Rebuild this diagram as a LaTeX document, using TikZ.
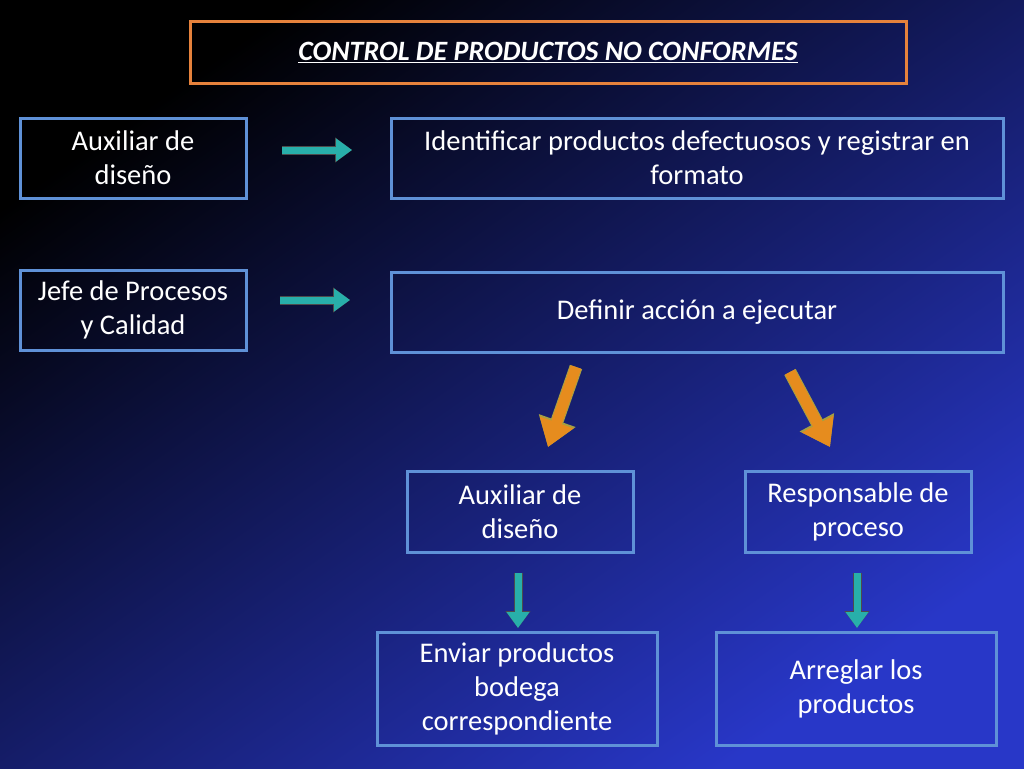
\documentclass[tikz,border=0pt]{standalone}
\usepackage{fontspec}
\setmainfont{Carlito}
\usetikzlibrary{arrows.meta,positioning}
\definecolor{bgblue}{RGB}{40,55,200}
\definecolor{boxline}{RGB}{95,145,215}
\definecolor{titleline}{RGB}{230,130,60}
\definecolor{tealarrow}{RGB}{40,175,170}
\definecolor{firearrow}{RGB}{230,140,30}
\tikzset{
  box/.style={draw=boxline,line width=3pt,text=white,align=center,inner sep=0pt,
    font=\fontsize{28.5}{34}\selectfont},
  teal/.style={draw=tealarrow,line width=7pt,-{Triangle[length=16pt,width=22pt]},
    preaction={draw=black!70,line width=9pt,-{Triangle[length=17pt,width=24pt]}}},
  fire/.style={draw=firearrow,line width=11pt,-{Triangle[length=26pt,width=34pt]},
    preaction={draw=yellow!60!black,line width=13pt,-{Triangle[length=28pt,width=37pt]}}}
}
\begin{document}
\begin{tikzpicture}[x=1pt,y=-1pt]
\shade[shading=axis,top color=black,bottom color=bgblue,shading angle=35] (0,0) rectangle (1024,768);
\useasboundingbox (0,0) rectangle (1024,768);
% title
\node[box,draw=titleline,minimum width=716pt,minimum height=61pt,
  font=\fontsize{28}{34}\selectfont\bfseries\itshape] (title) at (548,52.5) {\underline{CONTROL DE PRODUCTOS NO CONFORMES}};
% first row
\node[box,minimum width=226pt,minimum height=80pt] (aux1) at (133,158) {Auxiliar de\\diseño};
\node[box,minimum width=612pt,minimum height=80pt] (ident) at (697,158) {Identificar productos defectuosos y registrar en\\formato};
\node[box,minimum width=226pt,minimum height=80pt] (jefe) at (133,310) {Jefe de Procesos\\y Calidad};
\node[box,minimum width=612pt,minimum height=80pt] (def) at (697,312) {Definir acción a ejecutar};
% second level
\node[box,minimum width=226pt,minimum height=81pt] (aux2) at (520,512) {Auxiliar de\\diseño};
\node[box,minimum width=226pt,minimum height=81pt] (resp) at (858,512) {Responsable de\\proceso};
\node[box,minimum width=280pt,minimum height=113pt] (env) at (517,689) {Enviar productos\\bodega\\correspondiente};
\node[box,minimum width=280pt,minimum height=113pt] (arr) at (856,689) {Arreglar los\\productos};
% arrows
\coordinate (a1s) at (282,150); \coordinate (a1e) at (352,150);
\coordinate (a2s) at (280,300); \coordinate (a2e) at (350,300);
\draw[teal] (a1s) -- (a1e);
\draw[teal] (a2s) -- (a2e);
\coordinate (f1s) at (576,367); \coordinate (f1e) at (548,447);
\coordinate (f2s) at (790,372); \coordinate (f2e) at (830,447);
\draw[fire] (f1s) -- (f1e);
\draw[fire] (f2s) -- (f2e);
\coordinate (d1s) at (518,573); \coordinate (d1e) at (518,628);
\coordinate (d2s) at (857,573); \coordinate (d2e) at (857,628);
\draw[teal] (d1s) -- (d1e);
\draw[teal] (d2s) -- (d2e);
\end{tikzpicture}
\end{document}
